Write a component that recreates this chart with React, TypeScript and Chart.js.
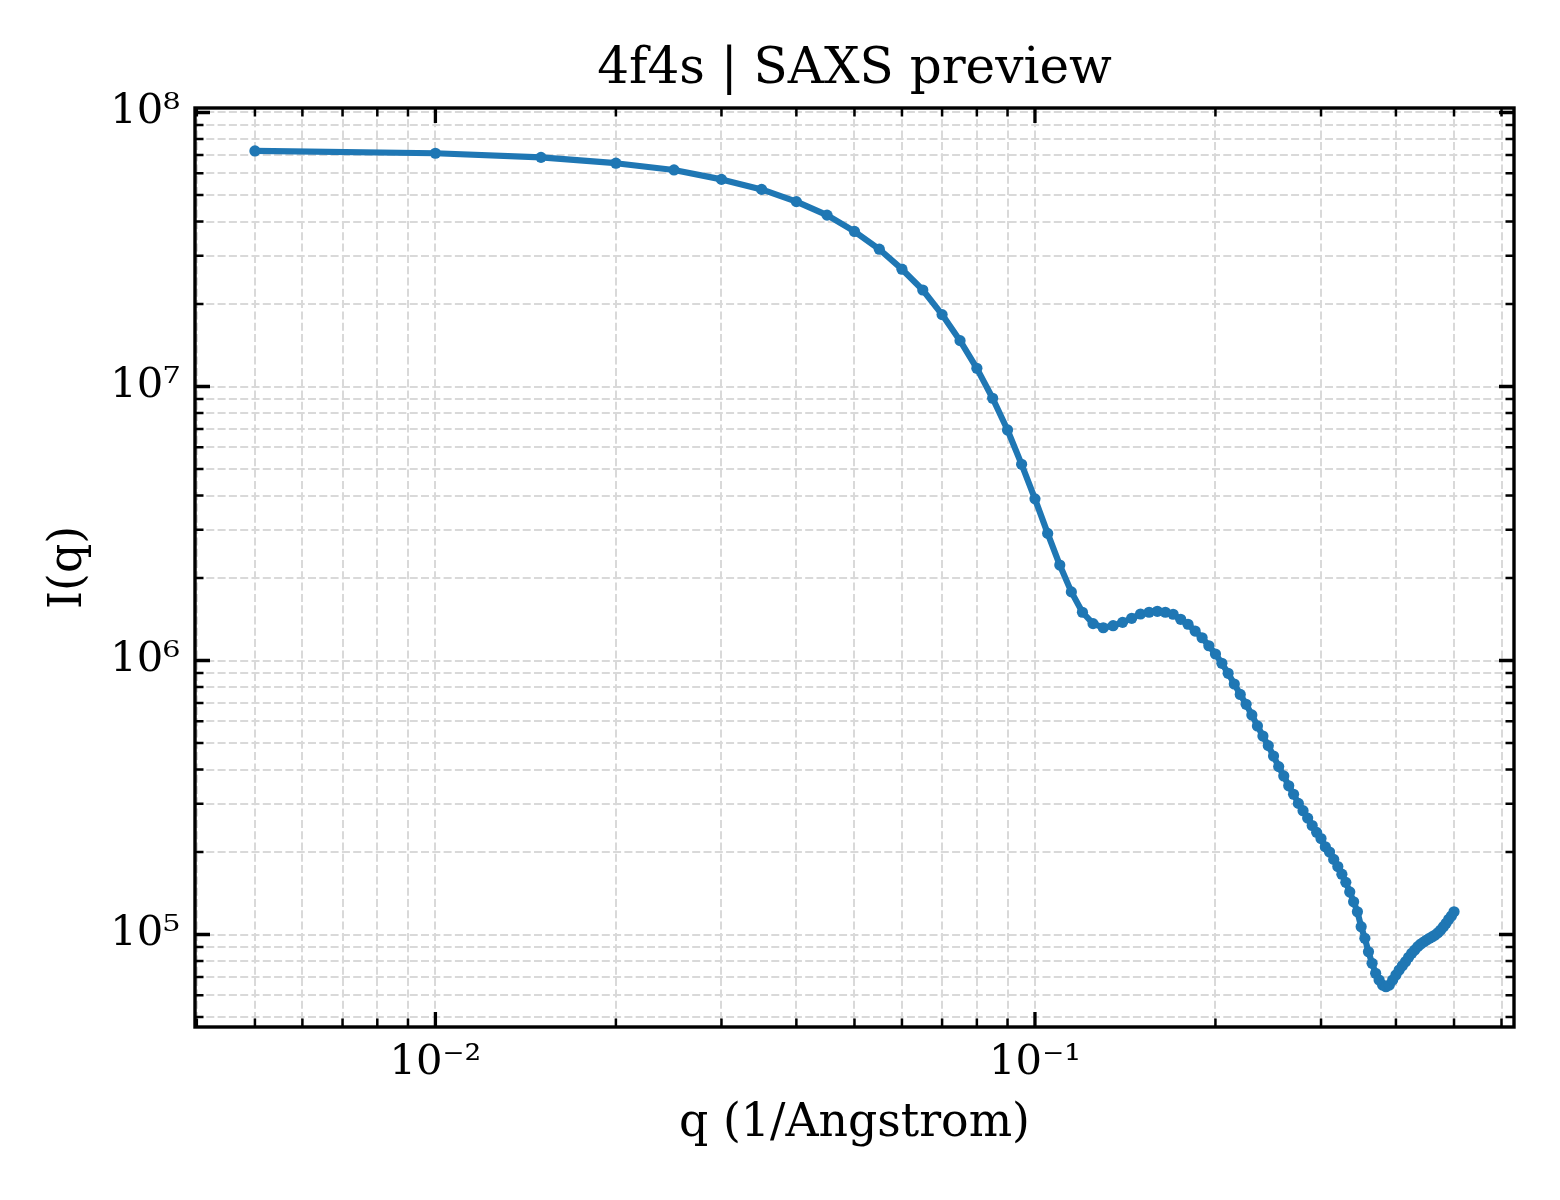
import React, { useEffect, useRef } from "react";
import { Chart, registerables } from "chart.js";

Chart.register(...registerables);

// ---- data ----
const Q = [
  0.005, 0.01, 0.015, 0.02, 0.025, 0.03, 0.035, 0.04, 0.045, 0.05,
  0.055, 0.06, 0.065, 0.07, 0.075, 0.08, 0.085, 0.09, 0.095, 0.1,
  0.105, 0.11, 0.115, 0.12, 0.125, 0.13, 0.135, 0.14, 0.145, 0.15,
  0.155, 0.16, 0.165, 0.17, 0.175, 0.18, 0.185, 0.19, 0.195, 0.2,
  0.205, 0.21, 0.215, 0.22, 0.225, 0.23, 0.235, 0.24, 0.245, 0.25,
  0.255, 0.26, 0.265, 0.27, 0.275, 0.28, 0.285, 0.29, 0.295, 0.3,
  0.305, 0.31, 0.315, 0.32, 0.325, 0.33, 0.335, 0.34, 0.345, 0.35,
  0.355, 0.36, 0.365, 0.37, 0.375, 0.38, 0.385, 0.39, 0.395, 0.4,
  0.405, 0.41, 0.415, 0.42, 0.425, 0.43, 0.435, 0.44, 0.445, 0.45,
  0.455, 0.46, 0.465, 0.47, 0.475, 0.48, 0.485, 0.49, 0.495, 0.5,
];

const INTENSITY = [
  7.24e7, 7.1e7, 6.86e7, 6.53e7, 6.17e7, 5.7e7, 5.24e7, 4.73e7, 4.22e7, 3.68e7,
  3.17e7, 2.68e7, 2.25e7, 1.83e7, 1.47e7, 1.165e7, 9.06e6, 6.94e6, 5.2e6, 3.89e6,
  2.91e6, 2.23e6, 1.78e6, 1.5e6, 1.363e6, 1.317e6, 1.34e6, 1.378e6, 1.426e6, 1.478e6,
  1.5e6, 1.512e6, 1.5e6, 1.475e6, 1.414e6, 1.356e6, 1.281e6, 1.211e6, 1.132e6, 1.056e6,
  9.77e5, 8.98e5, 8.21e5, 7.52e5, 6.92e5, 6.33e5, 5.77e5, 5.3e5, 4.89e5, 4.48e5,
  4.1e5, 3.79e5, 3.49e5, 3.25e5, 3.01e5, 2.83e5, 2.66e5, 2.5e5, 2.36e5, 2.24e5,
  2.09e5, 2.0e5, 1.88e5, 1.77e5, 1.66e5, 1.55e5, 1.43e5, 1.317e5, 1.211e5, 1.068e5,
  9.69e4, 8.65e4, 7.85e4, 7.22e4, 6.82e4, 6.54e4, 6.45e4, 6.54e4, 6.82e4, 7.12e4,
  7.42e4, 7.69e4, 7.96e4, 8.26e4, 8.54e4, 8.78e4, 9.03e4, 9.23e4, 9.39e4, 9.55e4,
  9.69e4, 9.82e4, 9.96e4, 1.015e5, 1.038e5, 1.068e5, 1.099e5, 1.137e5, 1.168e5, 1.211e5,
];

const X_MAJOR = [0.01, 0.1];
const X_MAJOR_LABELS = ["10\u207B\u00B2", "10\u207B\u00B9"];
const X_MINOR = [
  0.004, 0.005, 0.006, 0.007, 0.008, 0.009,
  0.02, 0.03, 0.04, 0.05, 0.06, 0.07, 0.08, 0.09,
  0.2, 0.3, 0.4, 0.5, 0.6,
];
const Y_MAJOR = [1e5, 1e6, 1e7, 1e8];
const Y_MAJOR_LABELS = ["10\u2075", "10\u2076", "10\u2077", "10\u2078"];
const Y_MINOR = [
  5e4, 6e4, 7e4, 8e4, 9e4,
  2e5, 3e5, 4e5, 5e5, 6e5, 7e5, 8e5, 9e5,
  2e6, 3e6, 4e6, 5e6, 6e6, 7e6, 8e6, 9e6,
  2e7, 3e7, 4e7, 5e7, 6e7, 7e7, 8e7, 9e7,
];

const X_RANGE = [0.003972, 0.6295];
const Y_RANGE = [4.597e4, 1.0385e8];

const TITLE = "4f4s | SAXS preview";
const X_TITLE = "q (1/Angstrom)";
const Y_TITLE = "I(q)";

const FONT = "'DejaVu Serif', 'Liberation Serif', serif";
const LINE_COLOR = "#1f77b4";
const GRID_COLOR = "#d9d9d9";

const makeTicks = (major: number[], minor: number[]) =>
  [...major, ...minor].sort((a, b) => a - b).map((v) => ({ value: v }));

const framePlugin = {
  id: "mplFrame",
  afterDraw(chart: any) {
    const { ctx, chartArea: a, scales } = chart;
    const xs = scales.x;
    const ys = scales.y;
    ctx.save();
    ctx.strokeStyle = "#000";
    ctx.lineCap = "butt";
    const drawX = (vals: number[], len: number, w: number) => {
      ctx.lineWidth = w;
      ctx.beginPath();
      for (const v of vals) {
        const px = xs.getPixelForValue(v);
        if (px < a.left - 0.5 || px > a.right + 0.5) continue;
        ctx.moveTo(px, a.bottom);
        ctx.lineTo(px, a.bottom - len);
        ctx.moveTo(px, a.top);
        ctx.lineTo(px, a.top + len);
      }
      ctx.stroke();
    };
    const drawY = (vals: number[], len: number, w: number) => {
      ctx.lineWidth = w;
      ctx.beginPath();
      for (const v of vals) {
        const py = ys.getPixelForValue(v);
        if (py < a.top - 0.5 || py > a.bottom + 0.5) continue;
        ctx.moveTo(a.left, py);
        ctx.lineTo(a.left + len, py);
        ctx.moveTo(a.right, py);
        ctx.lineTo(a.right - len, py);
      }
      ctx.stroke();
    };
    drawX(X_MINOR, 8.5, 2.5);
    drawY(Y_MINOR, 8.5, 2.5);
    drawX(X_MAJOR, 15, 3.3);
    drawY(Y_MAJOR, 15, 3.3);
    ctx.lineWidth = 3.4;
    ctx.strokeRect(a.left, a.top, a.right - a.left, a.bottom - a.top);
    ctx.restore();
  },
};

export default function App() {
  const canvasRef = useRef<HTMLCanvasElement | null>(null);

  useEffect(() => {
    document.body.style.margin = "0";
    const canvas = canvasRef.current;
    if (!canvas) return;

    const chart = new Chart(canvas, {
      type: "line",
      data: {
        datasets: [
          {
            data: Q.map((q, i) => ({ x: q, y: INTENSITY[i] })),
            borderColor: LINE_COLOR,
            backgroundColor: LINE_COLOR,
            borderWidth: 6.2,
            pointRadius: 5.6,
            pointHoverRadius: 5.6,
            pointBorderWidth: 0,
            pointBackgroundColor: LINE_COLOR,
            borderJoinStyle: "round",
            borderCapStyle: "round",
            tension: 0,
            fill: false,
          } as any,
        ],
      },
      options: {
        animation: false,
        responsive: false,
        devicePixelRatio: 1,
        events: [],
        layout: { padding: { left: 0, right: 46, top: 0, bottom: 0 } },
        plugins: {
          legend: { display: false },
          tooltip: { enabled: false },
          title: {
            display: true,
            text: TITLE,
            fullSize: false,
            color: "#000",
            font: { family: FONT, size: 50, weight: "normal", lineHeight: 1.2 },
            padding: { top: 40, bottom: 8 },
          },
        },
        scales: {
          x: {
            type: "logarithmic",
            position: "bottom",
            min: X_RANGE[0],
            max: X_RANGE[1],
            bounds: "data",
            afterBuildTicks: (scale: any) => {
              scale.ticks = makeTicks(X_MAJOR, X_MINOR);
            },
            afterFit: (scale: any) => {
              scale.height = 173;
            },
            grid: {
              display: true,
              drawTicks: false,
              color: GRID_COLOR,
              lineWidth: 2,
              borderDash: [8, 3.3],
            } as any,
            border: { display: false, dash: [8, 3.3] },
            ticks: {
              autoSkip: false,
              maxRotation: 0,
              minRotation: 0,
              padding: 11,
              color: "#000",
              font: { family: FONT, size: 41.7, lineHeight: 1.2 },
              callback: (value: any) => {
                const i = X_MAJOR.indexOf(Number(value));
                return i >= 0 ? X_MAJOR_LABELS[i] : "";
              },
            },
            title: {
              display: true,
              text: X_TITLE,
              color: "#000",
              font: { family: FONT, size: 45.8, lineHeight: 1.2 },
              padding: { top: 0, bottom: 48 },
            },
          },
          y: {
            type: "logarithmic",
            position: "left",
            min: Y_RANGE[0],
            max: Y_RANGE[1],
            bounds: "data",
            afterBuildTicks: (scale: any) => {
              scale.ticks = makeTicks(Y_MAJOR, Y_MINOR);
            },
            afterFit: (scale: any) => {
              scale.width = 195;
            },
            grid: {
              display: true,
              drawTicks: false,
              color: GRID_COLOR,
              lineWidth: 2,
              borderDash: [8, 3.3],
            } as any,
            border: { display: false, dash: [8, 3.3] },
            ticks: {
              autoSkip: false,
              padding: 15,
              color: "#000",
              font: { family: FONT, size: 41.7, lineHeight: 1.2 },
              callback: (value: any) => {
                const i = Y_MAJOR.indexOf(Number(value));
                return i >= 0 ? Y_MAJOR_LABELS[i] : "";
              },
            },
            title: {
              display: true,
              text: Y_TITLE,
              color: "#000",
              font: { family: FONT, size: 45.8, lineHeight: 1.2 },
              padding: { top: 42, bottom: 0 },
            },
          },
        },
      } as any,
      plugins: [framePlugin],
    });

    return () => {
      chart.destroy();
    };
  }, []);

  return (
    <div style={{ width: 1560, height: 1200, background: "#fff" }}>
      <canvas
        ref={canvasRef}
        width={1560}
        height={1200}
        style={{ display: "block", width: 1560, height: 1200 }}
      />
    </div>
  );
}
